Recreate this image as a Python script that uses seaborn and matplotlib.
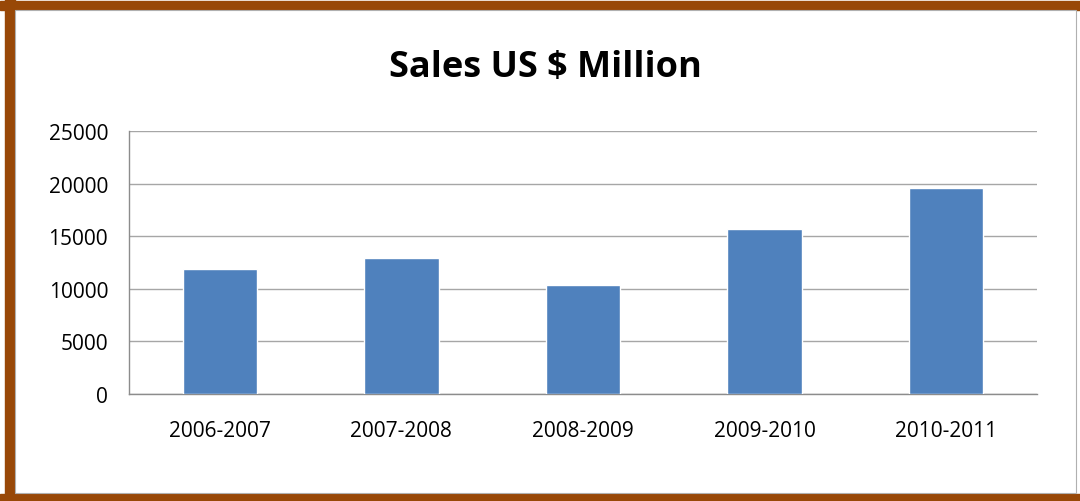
import matplotlib
matplotlib.use("Agg")
import matplotlib.pyplot as plt
import matplotlib.patches as mpatches
import seaborn as sns
import pandas as pd

# Data
years = ["2006-2007", "2007-2008", "2008-2009", "2009-2010", "2010-2011"]
sales = [11900, 12900, 10400, 15700, 19600]

df = pd.DataFrame({"year": years, "sales": sales})

sns.set_style("white")
plt.rcParams["font.family"] = ["Open Sans", "DejaVu Sans"]

fig = plt.figure(figsize=(10.8, 5.02), dpi=100)

# brown frame around the chart (kept behind the axes)
brown = "#984807"
frame = [
    mpatches.Rectangle((5 / 1080, 0), 10 / 1080, 1, color=brown),
    mpatches.Rectangle((0, 491 / 502), 1, 9 / 502, color=brown),
    mpatches.Rectangle((0, 0), 1, 7 / 502, color=brown),
    mpatches.Rectangle((15 / 1080, 8 / 502), 1061 / 1080, 483 / 502,
                       facecolor="white", edgecolor="#b0b0b0", linewidth=0.8),
]
for p in frame:
    p.set_transform(fig.transFigure)
    p.set_zorder(-5)
    fig.patches.append(p)

ax = fig.add_axes([129 / 1080, 107 / 502, 908 / 1080, 263 / 502])
ax.patch.set_alpha(0)
sns.barplot(data=df, x="year", y="sales", color="#4F81BD", width=0.41,
            saturation=1, ax=ax, zorder=3)

ax.set_xlim(-0.5, 4.5)
ax.set_ylim(0, 25000)
ax.set_yticks(range(0, 25001, 5000))
ax.set_xlabel("")
ax.set_ylabel("")

ax.yaxis.grid(True, color="#A6A6A6", linewidth=1)
ax.set_axisbelow(True)
for s in ["top", "right"]:
    ax.spines[s].set_visible(False)
for s in ["left", "bottom"]:
    ax.spines[s].set_color("#8C8C8C")
    ax.spines[s].set_linewidth(1)

ax.tick_params(axis="y", direction="out", length=7, width=1, color="#8C8C8C",
               labelsize=15, pad=8, labelcolor="black")
ax.tick_params(axis="x", which="major", length=0, labelsize=15, pad=19, labelcolor="black")
ax.set_xticks([i - 0.5 for i in range(6)], minor=True)
ax.tick_params(axis="x", which="minor", direction="out", length=7, width=1, color="#8C8C8C")

fig.text(545 / 1080, 434 / 502, "Sales US $ Million", ha="center", va="center",
         fontsize=26, fontweight="bold", color="black")

fig.savefig("out.png", dpi=100)
